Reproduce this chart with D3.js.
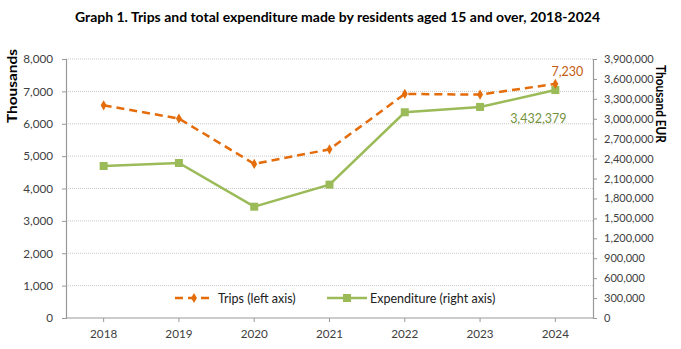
<!DOCTYPE html>
<html>
<head>
<meta charset="utf-8">
<script src="https://cdn.jsdelivr.net/npm/d3@7"></script>
<style>
  body { margin: 0; background: #fff; }
  text { font-family: Lato, "Liberation Sans", sans-serif; }
</style>
</head>
<body>
<script>
// data
var years = ["2018", "2019", "2020", "2021", "2022", "2023", "2024"];
var trips = [6570, 6160, 4760, 5210, 6920, 6900, 7230];
var expenditure = [2289000, 2334000, 1676000, 2008000, 3098000, 3178000, 3432379];
var leftTicks = [0, 1000, 2000, 3000, 4000, 5000, 6000, 7000, 8000];
var rightTicks = d3.range(0, 3900001, 300000);

var width = 681, height = 349;
var plotLeft = 66, plotRight = 593, plotTop = 59, plotBottom = 318;

var svg = d3.select("body").append("svg")
  .attr("width", width)
  .attr("height", height);

var x = d3.scaleBand().domain(years).range([plotLeft, plotRight]);
var yL = d3.scaleLinear().domain([0, 8000]).range([plotBottom, plotTop]);
var yR = d3.scaleLinear().domain([0, 3900000]).range([plotBottom, plotTop]);
var fmt = d3.format(",");

// title
svg.append("text")
  .attr("x", 75).attr("y", 22)
  .attr("textLength", 525).attr("lengthAdjust", "spacingAndGlyphs")
  .style("font-size", "13px").style("font-weight", "bold").attr("fill", "#000")
  .text("Graph 1. Trips and total expenditure made by residents aged 15 and over, 2018-2024");

// gridlines
svg.append("g").selectAll("line")
  .data(leftTicks.filter(function(d){ return d > 0; }))
  .enter().append("line")
  .attr("x1", plotLeft).attr("x2", plotRight)
  .attr("y1", function(d){ return yL(d); })
  .attr("y2", function(d){ return yL(d); })
  .attr("stroke", "#c8c8c8")
  .attr("stroke-dasharray", "1,1");

// axes
var gL = svg.append("g").attr("transform", "translate(" + plotLeft + ",0)")
  .call(d3.axisLeft(yL).tickValues(leftTicks).tickFormat(fmt).tickSize(4).tickPadding(9));
var gR = svg.append("g").attr("transform", "translate(" + plotRight + ",0)")
  .call(d3.axisRight(yR).tickValues(rightTicks).tickFormat(fmt).tickSize(4).tickPadding(7));
var gX = svg.append("g").attr("transform", "translate(0," + plotBottom + ")")
  .call(d3.axisBottom(x).tickSize(4).tickPadding(8));

[gL, gR, gX].forEach(function(g){
  g.select(".domain").attr("stroke", "#999").attr("stroke-width", 1.2);
  g.selectAll(".tick line").attr("stroke", "#999");
  g.selectAll(".tick text").attr("fill", "#404040").style("font-size", "11.7px")
    .style("font-family", "Lato, sans-serif");
});
gR.selectAll(".tick text").style("font-size", "11px");
gX.select(".domain").attr("d", "M" + plotLeft + ",0H" + plotRight);

// axis titles
svg.append("text")
  .attr("transform", "translate(17,86) rotate(-90)")
  .attr("text-anchor", "middle")
  .attr("textLength", 74).attr("lengthAdjust", "spacingAndGlyphs")
  .style("font-size", "13px").style("font-weight", "bold")
  .text("Thousands");
svg.append("text")
  .attr("transform", "translate(656,104) rotate(90)")
  .attr("text-anchor", "middle")
  .attr("textLength", 78).attr("lengthAdjust", "spacingAndGlyphs")
  .style("font-size", "13px").style("font-weight", "bold")
  .text("Thousand EUR");

var cx = function(d, i){ return x(years[i]) + x.bandwidth() / 2; };
var orange = "#E46C0A", green = "#9BBB59";

// expenditure line
svg.append("path")
  .datum(expenditure)
  .attr("fill", "none").attr("stroke", green).attr("stroke-width", 2.5)
  .attr("d", d3.line().x(cx).y(function(d){ return yR(d); }));
svg.append("g").selectAll("rect")
  .data(expenditure).enter().append("rect")
  .attr("x", function(d, i){ return cx(d, i) - 4; })
  .attr("y", function(d){ return yR(d) - 4; })
  .attr("width", 8).attr("height", 8)
  .attr("fill", green);

// trips line
svg.append("path")
  .datum(trips)
  .attr("fill", "none").attr("stroke", orange).attr("stroke-width", 2.5)
  .attr("stroke-dasharray", "8,5")
  .attr("d", d3.line().x(cx).y(function(d){ return yL(d); }));
svg.append("g").selectAll("path")
  .data(trips).enter().append("path")
  .attr("d", d3.symbol().type(d3.symbolDiamond).size(30))
  .attr("transform", function(d, i){ return "translate(" + cx(d, i) + "," + yL(d) + ")"; })
  .attr("fill", orange);

// data labels for last point
var last = years.length - 1;
svg.append("text")
  .attr("x", cx(0, last) + 12).attr("y", yL(trips[last]) - 8)
  .attr("text-anchor", "middle").attr("fill", "#C55A11")
  .style("font-size", "12.5px")
  .text(fmt(trips[last]));
svg.append("text")
  .attr("x", cx(0, last) - 17).attr("y", yR(expenditure[last]) + 33)
  .attr("text-anchor", "middle").attr("fill", "#76923C")
  .style("font-size", "12.5px")
  .text(fmt(expenditure[last]));

// legend
var lg = svg.append("g").attr("transform", "translate(0,298)");
lg.append("line").attr("x1", 175).attr("x2", 213)
  .attr("stroke", orange).attr("stroke-width", 2.5).attr("stroke-dasharray", "8,5");
lg.append("path").attr("d", d3.symbol().type(d3.symbolDiamond).size(30)())
  .attr("transform", "translate(194,0)").attr("fill", orange);
lg.append("text").attr("x", 218).attr("y", 4.5)
  .style("font-size", "12.5px").attr("fill", "#202020").text("Trips (left axis)");
lg.append("line").attr("x1", 327).attr("x2", 367)
  .attr("stroke", green).attr("stroke-width", 2.5);
lg.append("rect").attr("x", 343).attr("y", -4).attr("width", 8).attr("height", 8)
  .attr("fill", green);
lg.append("text").attr("x", 370).attr("y", 4.5)
  .style("font-size", "12.5px").attr("fill", "#202020").text("Expenditure (right axis)");
</script>
</body>
</html>
